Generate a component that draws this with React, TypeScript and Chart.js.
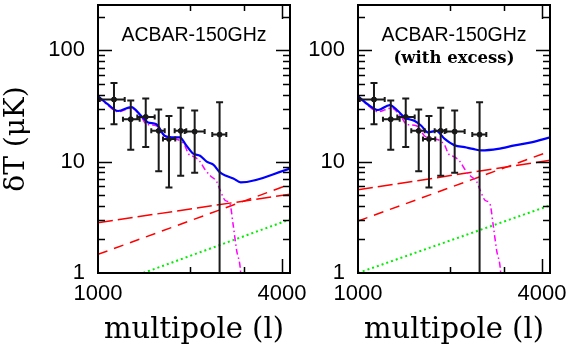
import React, { useEffect, useRef } from 'react';
import { Chart, registerables } from 'chart.js';

Chart.register(...registerables);

// ---------- axes ----------
const X_MIN = 1000;
const X_MAX = 4250;
const Y_MIN = 1;
const Y_MAX = 255;
const X_TICKS = [1000, 2000, 3000, 4000];
const X_TICK_LABELS = [1000, 4000];
const Y_TICKS = [1, 2, 3, 4, 5, 6, 7, 8, 9, 10, 20, 30, 40, 50, 60, 70, 80, 90, 100, 200];
const Y_TICK_LABELS = [1, 10, 100];
const X_TITLE = 'multipole (l)';
const Y_TITLE = 'δT (μK)';

// ---------- ACBAR 150 GHz band powers ----------
const BAND_ELL = [1128, 1280, 1433, 1580, 1707, 1865, 2072, 2500];
const BAND_ELL_LO = [1013, 1207, 1345, 1494, 1632, 1782, 1922, 2366];
const BAND_ELL_HI = [1223, 1369, 1533, 1653, 1790, 1945, 2234, 2630];
const BAND_DT = [36.1, 24.0, 25.2, 18.9, 16.0, 18.9, 18.6, 17.5];
const BAND_DT_LO = [21.7, 12.8, 13.5, 8.2, 5.85, 7.47, 7.94, 0.5];
const BAND_DT_HI = [50.7, 35.4, 36.8, 29.4, 25.7, 30.5, 28.8, 34.2];

// ---------- primary CMB (magenta dash-dot) ----------
const CMB_ELL = [1000, 1078, 1163, 1285, 1386, 1439, 1552, 1653, 1782, 1851, 1922, 1975, 2072, 2157, 2239, 2326, 2446, 2507, 2604, 2704, 2772, 2843, 2931, 2970];
const CMB_DT = [38.0, 32.0, 28.0, 30.3, 25.2, 21.7, 21.0, 17.0, 16.0, 15.5, 14.0, 11.8, 11.0, 10.0, 8.5, 7.5, 6.6, 5.6, 4.5, 4.15, 2.65, 1.6, 1.0, 0.5];

// ---------- total model, left panel (blue) ----------
const TOTAL_A_ELL = [1000, 1078, 1163, 1285, 1386, 1458, 1552, 1653, 1782, 1851, 1945, 2050, 2157, 2268, 2384, 2507, 2637, 2772, 2931, 4250];
const TOTAL_A_DT = [38.7, 32.6, 28.5, 30.9, 25.7, 22.5, 21.7, 17.1, 16.5, 16.5, 14.0, 11.8, 11.3, 10.0, 9.4, 8.0, 7.43, 7.07, 6.5, 8.67];

// ---------- total model, right panel (blue, with excess) ----------
const TOTAL_B_ELL = [1000, 1078, 1163, 1270, 1352, 1422, 1533, 1611, 1694, 1804, 1922, 2072, 2234, 2378, 2532, 2872, 3257, 3690, 4250];
const TOTAL_B_DT = [38.7, 32.6, 29.1, 32.2, 28.5, 24.9, 23.2, 21.0, 18.3, 18.9, 16.0, 14.0, 13.5, 13.0, 12.6, 13.0, 14.0, 14.9, 16.5];

// ---------- foregrounds ----------
const FG_ELL = [1000, 4250];
const LONGDASH_A_DT = [2.83, 5.1];
const SHORTDASH_A_DT = [1.47, 6.26];
const DOTTED_A_ELL = [1407, 4250];
const DOTTED_A_DT = [1.0, 3.03];
const LONGDASH_B_DT = [5.58, 10.3];
const SHORTDASH_B_DT = [2.93, 12.4];
const DOTTED_B_ELL = [1000, 4250];
const DOTTED_B_DT = [1.0, 4.05];

const LABEL_A = ['ACBAR-150GHz'];
const LABEL_B = ['ACBAR-150GHz', '(with excess)'];

const pts = (xs: number[], ys: number[]) => xs.map((x, i) => ({ x, y: ys[i] }));

const framePlugin = {
  id: 'frameTicks',
  afterDatasetsDraw(chart: any) {
    const { ctx, chartArea: a, scales } = chart;
    const xs = scales.x;
    const ys = scales.y;
    ctx.save();
    ctx.strokeStyle = '#000';
    ctx.lineWidth = 1.5;
    ctx.beginPath();
    for (const v of Y_TICKS) {
      if (v <= Y_MIN) continue;
      const y = Math.round(ys.getPixelForValue(v)) + 0.5;
      const len = Y_TICK_LABELS.includes(v) ? 14 : 7;
      ctx.moveTo(a.left, y);
      ctx.lineTo(a.left + len, y);
      ctx.moveTo(a.right, y);
      ctx.lineTo(a.right - len, y);
    }
    for (const v of X_TICKS) {
      if (v <= X_MIN) continue;
      const x = Math.round(xs.getPixelForValue(v)) + 0.5;
      const len = X_TICK_LABELS.includes(v) ? 14 : 6;
      ctx.moveTo(x, a.bottom);
      ctx.lineTo(x, a.bottom - len);
      ctx.moveTo(x, a.top);
      ctx.lineTo(x, a.top + len);
    }
    ctx.stroke();
    ctx.lineWidth = 2;
    ctx.strokeRect(a.left, a.top, a.right - a.left, a.bottom - a.top);
    ctx.restore();
  },
};

const errorBarPlugin = {
  id: 'errorBars',
  afterDatasetsDraw(chart: any) {
    const { ctx, chartArea: a, scales } = chart;
    const xs = scales.x;
    const ys = scales.y;
    ctx.save();
    ctx.beginPath();
    ctx.rect(a.left, a.top, a.right - a.left, a.bottom - a.top);
    ctx.clip();
    ctx.strokeStyle = '#1a1a1a';
    ctx.lineWidth = 2;
    ctx.beginPath();
    BAND_ELL.forEach((l, i) => {
      const x = xs.getPixelForValue(l);
      const y = ys.getPixelForValue(BAND_DT[i]);
      const yLo = ys.getPixelForValue(BAND_DT_LO[i]);
      const yHi = ys.getPixelForValue(BAND_DT_HI[i]);
      const xLo = xs.getPixelForValue(BAND_ELL_LO[i]);
      const xHi = xs.getPixelForValue(BAND_ELL_HI[i]);
      ctx.moveTo(x, yLo);
      ctx.lineTo(x, yHi);
      ctx.moveTo(x - 3.5, yLo);
      ctx.lineTo(x + 3.5, yLo);
      ctx.moveTo(x - 3.5, yHi);
      ctx.lineTo(x + 3.5, yHi);
      ctx.moveTo(xLo, y);
      ctx.lineTo(xHi, y);
      ctx.moveTo(xLo, y - 2.5);
      ctx.lineTo(xLo, y + 2.5);
      ctx.moveTo(xHi, y - 2.5);
      ctx.lineTo(xHi, y + 2.5);
    });
    ctx.stroke();
    ctx.restore();
  },
};

const notesPlugin = {
  id: 'notes',
  afterDraw(chart: any, _args: any, opts: any) {
    const { ctx, chartArea: a } = chart;
    const cx = (a.left + a.right) / 2;
    ctx.save();
    ctx.fillStyle = '#000';
    ctx.textAlign = 'center';
    ctx.textBaseline = 'middle';
    (opts.lines || []).forEach((t: string, i: number) => {
      ctx.font = i === 0 ? '19.5px "Liberation Sans", Arial, sans-serif' : 'bold 16.5px "DejaVu Serif", serif';
      ctx.fillText(t, cx, a.top + (i === 0 ? 30.5 : 53.5));
    });
    ctx.restore();
  },
};

type PanelProps = {
  left: number;
  totalEll: number[];
  totalDt: number[];
  longDt: number[];
  shortDt: number[];
  dotEll: number[];
  dotDt: number[];
  lines: string[];
  showYTitle: boolean;
};

function Panel(p: PanelProps) {
  const ref = useRef<HTMLCanvasElement | null>(null);
  useEffect(() => {
    if (!ref.current) return;
    const tickFont = { family: '"Liberation Sans", Arial, sans-serif', size: 22 };
    const chart = new Chart(ref.current, {
      type: 'scatter',
      data: {
        datasets: [
          {
            data: pts(p.totalEll, p.totalDt),
            showLine: true,
            borderColor: '#0000ff',
            borderWidth: 2.2,
            pointRadius: 0,
            cubicInterpolationMode: 'monotone',
          },
          {
            data: pts(CMB_ELL, CMB_DT),
            showLine: true,
            borderColor: '#ff00ff',
            borderWidth: 1.5,
            borderDash: [6, 3, 1.5, 3],
            pointRadius: 0,
            cubicInterpolationMode: 'monotone',
          },
          {
            data: pts(FG_ELL, p.longDt),
            showLine: true,
            borderColor: '#ff0000',
            borderWidth: 1.5,
            borderDash: [15, 5],
            pointRadius: 0,
          },
          {
            data: pts(FG_ELL, p.shortDt),
            showLine: true,
            borderColor: '#ff0000',
            borderWidth: 1.5,
            borderDash: [10, 7],
            pointRadius: 0,
          },
          {
            data: pts(p.dotEll, p.dotDt),
            showLine: true,
            borderColor: '#00ee00',
            borderWidth: 2,
            borderDash: [2, 3],
            pointRadius: 0,
          },
          {
            data: pts(BAND_ELL, BAND_DT),
            showLine: false,
            pointRadius: 2.5,
            pointBackgroundColor: '#111',
            pointBorderColor: '#111',
          },
        ],
      } as any,
      options: {
        animation: false,
        responsive: false,
        devicePixelRatio: 1,
        layout: { padding: { left: 0, top: 1, right: 22, bottom: 0 } },
        plugins: {
          legend: { display: false },
          tooltip: { enabled: false },
          notes: { lines: p.lines },
        } as any,
        scales: {
          x: {
            type: 'logarithmic',
            min: X_MIN,
            max: X_MAX,
            grid: { display: false, drawTicks: false },
            border: { display: false },
            afterBuildTicks: (s: any) => {
              s.ticks = X_TICK_LABELS.map((v) => ({ value: v }));
            },
            afterFit: (s: any) => {
              s.height = 72;
              s.paddingLeft = 0;
              s.paddingRight = 0;
            },
            ticks: {
              autoSkip: false,
              maxRotation: 0,
              padding: 8,
              color: '#000',
              font: tickFont,
              callback: (v: any) => String(v),
            },
            title: {
              display: true,
              text: X_TITLE,
              color: '#000',
              font: { family: '"DejaVu Serif", serif', size: 29, lineHeight: 1.0 },
              padding: { top: 0, bottom: 0 },
            },
          },
          y: {
            type: 'logarithmic',
            min: Y_MIN,
            max: Y_MAX,
            grid: { display: false, drawTicks: false },
            border: { display: false },
            afterBuildTicks: (s: any) => {
              s.ticks = Y_TICK_LABELS.map((v) => ({ value: v }));
            },
            afterFit: (s: any) => {
              s.width = 98;
              s.paddingTop = 0;
              s.paddingBottom = 0;
            },
            ticks: {
              autoSkip: false,
              padding: 13,
              color: '#000',
              font: tickFont,
              callback: (v: any) => String(v),
            },
            title: {
              display: p.showYTitle,
              text: Y_TITLE,
              color: '#000',
              font: { family: '"DejaVu Serif", serif', size: 28, lineHeight: 1.0 },
              padding: { top: 3, bottom: 0 },
            },
          },
        },
      } as any,
      plugins: [errorBarPlugin, framePlugin, notesPlugin],
    });
    return () => chart.destroy();
  }, []);
  return (
    <div style={{ position: 'absolute', left: p.left, top: 0, width: 312, height: 345 }}>
      <canvas ref={ref} width={312} height={345} style={{ width: 312, height: 345, display: 'block' }} />
    </div>
  );
}

export default function App() {
  return (
    <div
      style={{
        position: 'fixed',
        left: 0,
        top: 0,
        width: 568,
        height: 345,
        overflow: 'hidden',
        background: '#fff',
      }}
    >
      <Panel
        left={0}
        totalEll={TOTAL_A_ELL}
        totalDt={TOTAL_A_DT}
        longDt={LONGDASH_A_DT}
        shortDt={SHORTDASH_A_DT}
        dotEll={DOTTED_A_ELL}
        dotDt={DOTTED_A_DT}
        lines={LABEL_A}
        showYTitle={true}
      />
      <Panel
        left={260}
        totalEll={TOTAL_B_ELL}
        totalDt={TOTAL_B_DT}
        longDt={LONGDASH_B_DT}
        shortDt={SHORTDASH_B_DT}
        dotEll={DOTTED_B_ELL}
        dotDt={DOTTED_B_DT}
        lines={LABEL_B}
        showYTitle={false}
      />
    </div>
  );
}
